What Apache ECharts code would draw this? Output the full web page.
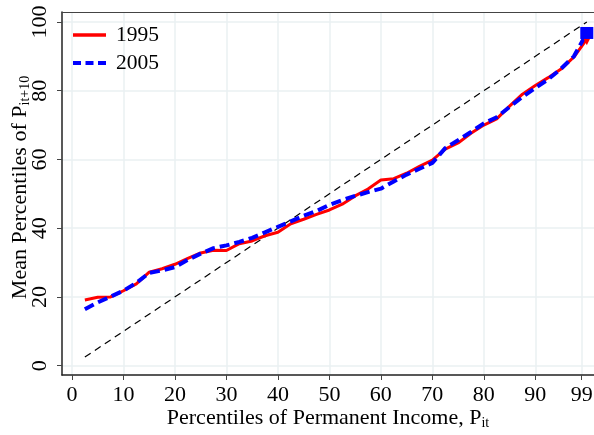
<!DOCTYPE html>
<html><head><meta charset="utf-8">
<script src="https://cdn.jsdelivr.net/npm/echarts@6/dist/echarts.min.js"></script>
<style>html,body{margin:0;padding:0;background:#fff}#c{width:594px;height:435px}</style>
</head><body><div id="c"></div>
<script>
const percentiles = [2.5, 5, 7.5, 10, 12.5, 15, 17.5, 20, 22.5, 25, 27.5, 30, 32.5, 35, 37.5, 40, 42.5, 45, 47.5, 50,
  52.5, 55, 57.5, 60, 62.5, 65, 67.5, 70, 72.5, 75, 77.5, 80, 82.5, 85, 87.5, 90, 92.5, 95, 97.5, 100];
const mobility1995 = [19.1, 19.9, 20.0, 21.8, 23.8, 27.2, 28.2, 29.5, 31.2, 32.8, 33.6, 33.5, 35.5, 36.3, 37.8, 38.8, 41.3, 42.6, 44.0, 45.3,
  47.0, 49.4, 51.4, 54.0, 54.4, 56.0, 58.0, 59.8, 63.0, 64.8, 67.6, 70.0, 71.8, 75.5, 79.0, 81.5, 83.8, 86.3, 89.8, 95.0];
const mobility2005 = [16.4, 18.4, 20.1, 21.8, 24.1, 27.0, 27.7, 28.7, 30.8, 32.6, 34.2, 35.0, 36.0, 37.2, 38.8, 40.4, 42.0, 43.6, 45.0, 46.8,
  48.2, 49.4, 50.5, 51.5, 53.6, 55.6, 57.3, 59.0, 63.3, 65.6, 68.0, 70.5, 72.3, 75.3, 78.2, 80.8, 83.3, 86.4, 90.0, 96.8];
const diagonal = [[2.5, 2.5], [100, 100]];
const xTicks = [0, 10, 20, 30, 40, 50, 60, 70, 80, 90, 99];
const yTicks = [0, 20, 40, 60, 80, 100];
const seriesNames = ['1995', '2005'];

const FONT = 'Liberation Serif';
const line1995 = percentiles.map((x, i) => [x, mobility1995[i]]);
const line2005 = percentiles.map((x, i) => [x, mobility2005[i]]);
const last = percentiles.length - 1;
const X_MIN = -1.94, X_MAX = 101.4;

const chart = echarts.init(document.getElementById('c'), null, {renderer: 'canvas'});
chart.setOption({
  animation: false,
  backgroundColor: '#ffffff',
  grid: {left: 62, right: 0, top: 12, bottom: 60, containLabel: false, outerBoundsMode: 'none'},
  legend: {
    data: [
      {name: seriesNames[0], lineStyle: {color: '#ff0000', width: 3.5, type: 'solid'}},
      {name: seriesNames[1], lineStyle: {color: '#0000ff', width: 4, type: [8, 4.5]}}
    ],
    orient: 'vertical', left: 66, top: 18, itemWidth: 33, itemHeight: 14, itemGap: 4,
    itemStyle: {opacity: 0},
    textStyle: {fontFamily: FONT, fontSize: 21.5, color: '#000', lineHeight: 24, padding: [0, 0, 0, 5]}
  },
  xAxis: [{
    type: 'value', min: X_MIN, max: X_MAX,
    name: 'Percentiles of Permanent Income, P{sub|it}', nameLocation: 'middle', nameGap: 31, nameMoveOverlap: false,
    nameTextStyle: {fontFamily: FONT, fontSize: 22, color: '#000',
      rich: {sub: {fontFamily: FONT, fontSize: 14, color: '#000', padding: [10, 0, 0, 0]}}},
    axisLine: {show: true, onZero: false, lineStyle: {color: '#222', width: 1.5}},
    axisTick: {show: true, customValues: xTicks, length: 5, lineStyle: {color: '#444', width: 1}},
    axisLabel: {customValues: xTicks, fontFamily: FONT, fontSize: 22, color: '#000', margin: 9},
    splitLine: {show: true, lineStyle: {color: '#eaf1f2', width: 1.5}}
  }, {
    type: 'value', position: 'top', min: X_MIN, max: X_MAX,
    axisLine: {show: true, onZero: false, lineStyle: {color: '#444', width: 1}},
    axisTick: {show: false}, axisLabel: {show: false}, splitLine: {show: false}
  }],
  yAxis: {
    type: 'value', min: -2.71, max: 102.9,
    name: 'Mean Percentiles of P{sub|it+10}', nameLocation: 'middle', nameGap: 30, nameRotate: 90, nameMoveOverlap: false,
    nameTextStyle: {fontFamily: FONT, fontSize: 22, color: '#000', padding: [0, 0, 0, 12],
      rich: {sub: {fontFamily: FONT, fontSize: 14, color: '#000', padding: [10, 0, 0, 0]}}},
    axisLine: {show: true, onZero: false, lineStyle: {color: '#222', width: 1.5}},
    axisTick: {show: true, customValues: yTicks, length: 5, lineStyle: {color: '#444', width: 1}},
    axisLabel: {customValues: yTicks, rotate: 90, fontFamily: FONT, fontSize: 22, color: '#000', margin: 11},
    splitLine: {show: true, lineStyle: {color: '#eaf1f2', width: 1.5}}
  },
  series: [
    {type: 'line', name: 'diag', data: diagonal, symbol: 'none', silent: true,
      lineStyle: {color: '#000', width: 1.2, type: [7, 5]}, z: 2},
    {type: 'line', name: seriesNames[0], data: line1995, symbol: 'none',
      lineStyle: {color: '#ff0000', width: 3}, itemStyle: {color: '#ff0000'}, z: 3},
    {type: 'line', name: seriesNames[1], data: line2005, symbol: 'none',
      lineStyle: {color: '#0000ff', width: 4, type: [10, 5]}, itemStyle: {color: '#0000ff'}, z: 4},
    {type: 'scatter', name: 'end1995', data: [[percentiles[last], mobility1995[last]]], symbol: 'triangle',
      symbolRotate: 180, symbolSize: 12, itemStyle: {color: '#ff0000', opacity: 1}, z: 5},
    {type: 'scatter', name: 'end2005', data: [[percentiles[last], mobility2005[last]]], symbol: 'rect',
      symbolSize: [13, 12], itemStyle: {color: '#0000ff', opacity: 1}, z: 6}
  ]
});
</script>
</body></html>
